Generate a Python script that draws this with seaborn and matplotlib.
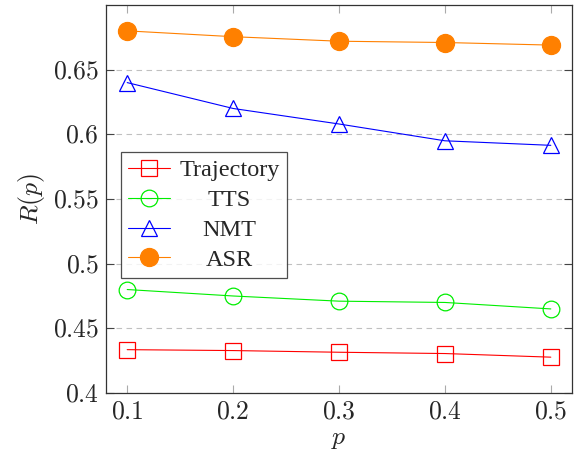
import pandas as pd
import matplotlib
matplotlib.use("Agg")
import matplotlib.pyplot as plt
import matplotlib.ticker as mticker
import seaborn as sns

p_values = [0.1, 0.2, 0.3, 0.4, 0.5]
trajectory = [0.4335, 0.4328, 0.4315, 0.4305, 0.4277]
tts = [0.480, 0.475, 0.471, 0.470, 0.465]
nmt = [0.640, 0.620, 0.608, 0.595, 0.5915]
asr = [0.680, 0.6755, 0.672, 0.671, 0.669]

y_ticks = [0.4, 0.45, 0.5, 0.55, 0.6, 0.65]
x_ticks = [0.1, 0.2, 0.3, 0.4, 0.5]

sns.set_theme(style="white")
plt.rcParams['font.family'] = ['Liberation Serif', 'DejaVu Serif']
plt.rcParams['mathtext.fontset'] = 'cm'

fig = plt.figure(figsize=(5.74, 4.55), dpi=100)
ax = fig.add_axes([0.1847, 0.1363, 0.8118, 0.8527])

series = [
    ("Trajectory", trajectory, "#ff0000", "s", "none", 12),
    ("TTS", tts, "#00ee00", "o", "none", 12),
    ("NMT", nmt, "#0000ff", "^", "none", 12),
    ("ASR", asr, "#ff8000", "o", "#ff8000", 13),
]

for name, vals, col, mk, fc, ms in series:
    df = pd.DataFrame({"p": p_values, "R": vals})
    sns.lineplot(data=df, x="p", y="R", ax=ax, color=col, marker=mk,
                 markersize=ms, markerfacecolor=fc, markeredgecolor=col,
                 markeredgewidth=0.9, linewidth=0.8, label=name)

ax.set_xlim(0.08, 0.52)
ax.set_ylim(0.4, 0.7)
ax.set_xticks(x_ticks)
ax.set_yticks(y_ticks)
ax.xaxis.set_major_formatter(mticker.FuncFormatter(lambda v, _: f"${v:g}$"))
ax.yaxis.set_major_formatter(mticker.FuncFormatter(lambda v, _: f"${v:g}$"))
ax.tick_params(axis="y", direction="in", length=6, width=0.8, color="#444444",
               left=True, right=True, labelsize=18.5, pad=5)
ax.tick_params(axis="x", direction="in", length=6, width=0.8, color="#aaaaaa",
               bottom=True, top=True, labelsize=18.5, pad=6)
ax.grid(axis="y", linestyle=(0, (5, 4)), color="#c0c0c0", linewidth=0.8)
ax.grid(axis="x", visible=False)
for s in ax.spines.values():
    s.set_color("#333333")
    s.set_linewidth(0.9)

ax.set_xlabel(r"$p$", fontsize=18.5, labelpad=4)
ax.set_ylabel(r"$R(p)$", fontsize=18.5, labelpad=4)

leg = ax.legend(loc="lower left", bbox_to_anchor=(0.032, 0.296), fontsize=17.5,
                frameon=True, fancybox=False, edgecolor="#222222",
                handlelength=1.7, handletextpad=0.4, borderpad=0.3,
                labelspacing=0.32, borderaxespad=0)
leg.get_frame().set_linewidth(0.9)

# center legend labels in their column, like pgfplots does
fig.canvas.draw()
r = fig.canvas.get_renderer()
widths = [t.get_window_extent(r).width for t in leg.get_texts()]
for t, w in zip(leg.get_texts(), widths):
    t.set_x((max(widths) - w) / 2)

fig.savefig("out.png", dpi=100)
